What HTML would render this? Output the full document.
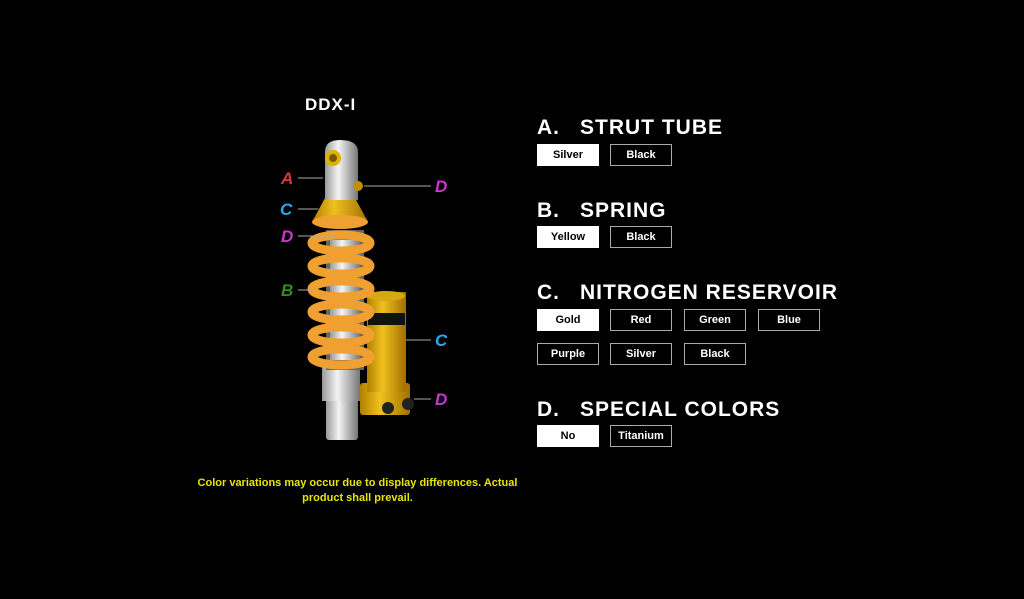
<!DOCTYPE html>
<html><head><meta charset="utf-8"><style>
body{margin:0;background:#000;width:1024px;height:599px;overflow:hidden;position:relative;font-family:"Liberation Sans",sans-serif;color:#fff}
.h{position:absolute;left:537px;font-weight:bold;font-size:21px;letter-spacing:1px;white-space:nowrap}
.h span{display:inline-block;width:43px}
.b{position:absolute;width:60px;height:20px;border:1px solid #aaa;font-size:11px;font-weight:600;text-align:center;line-height:20px;color:#fff;background:#000}
.b.s{background:#fff;color:#000;border-color:#fff}
.t{position:absolute;left:305px;top:95px;font-size:17px;font-weight:bold;letter-spacing:1px}
.f{position:absolute;left:180px;width:355px;top:476px;text-align:center;color:#e6e600;font-size:11px;font-weight:bold;line-height:15px}
</style></head><body>
<div class="t">DDX-I</div>
<svg style="position:absolute;left:0;top:0" width="1024" height="599">
<defs>
<linearGradient id="sil" x1="0" x2="1"><stop offset="0" stop-color="#999"/><stop offset=".4" stop-color="#f4f4f4"/><stop offset="1" stop-color="#777"/></linearGradient>
<linearGradient id="gld" x1="0" x2="1"><stop offset="0" stop-color="#b08000"/><stop offset=".4" stop-color="#f0c020"/><stop offset="1" stop-color="#a07000"/></linearGradient>
</defs>
<rect x="326" y="398" width="32" height="42" rx="3" fill="url(#sil)"/>
<rect x="322" y="365" width="38" height="36" fill="url(#sil)"/>
<rect x="326" y="230" width="38" height="140" fill="#666"/>
<rect x="330" y="240" width="30" height="120" fill="url(#sil)"/>
<rect x="360" y="383" width="50" height="32" rx="3" fill="url(#gld)"/>
<rect x="367" y="292" width="39" height="100" fill="url(#gld)"/>
<ellipse cx="386" cy="296" rx="19" ry="5" fill="#d8a810"/>
<rect x="368" y="313" width="37" height="12" fill="#111"/>
<circle cx="388" cy="408" r="6" fill="#222"/><circle cx="408" cy="404" r="6" fill="#222"/>
<g fill="none" stroke="#f0a030" stroke-width="9">
<ellipse cx="341" cy="243" rx="29" ry="8"/><ellipse cx="341" cy="266" rx="29" ry="8"/><ellipse cx="341" cy="289" rx="29" ry="8"/><ellipse cx="341" cy="312" rx="29" ry="8"/><ellipse cx="341" cy="335" rx="29" ry="8"/><ellipse cx="341" cy="357" rx="29" ry="8"/>
</g>
<path d="M325 198 L355 198 L368 222 Q341 236 312 222 Z" fill="url(#gld)"/>
<ellipse cx="340" cy="222" rx="28" ry="7" fill="#f0a030"/>
<path d="M325 152 Q325 140 340 140 Q358 140 358 152 L358 200 L325 200 Z" fill="url(#sil)"/>
<circle cx="333" cy="158" r="8" fill="#e0b000"/><circle cx="333" cy="158" r="4" fill="#7a5a00"/>
<circle cx="358" cy="186" r="5" fill="#c09000"/>
<g stroke="#aaa" stroke-width="1">
<line x1="298" y1="178" x2="323" y2="178"/><line x1="364" y1="186" x2="431" y2="186"/>
<line x1="298" y1="209" x2="318" y2="209"/><line x1="298" y1="236" x2="336" y2="236"/>
<line x1="298" y1="290" x2="315" y2="290"/><line x1="406" y1="340" x2="431" y2="340"/>
<line x1="414" y1="399" x2="431" y2="399"/>
</g>
<g font-family="Liberation Sans" font-weight="bold" font-style="italic" font-size="17">
<text x="281" y="184" fill="#d83838">A</text>
<text x="435" y="192" fill="#c838d0">D</text>
<text x="280" y="215" fill="#30a8e8">C</text>
<text x="281" y="242" fill="#c838d0">D</text>
<text x="281" y="296" fill="#3a8a20">B</text>
<text x="435" y="346" fill="#30a8e8">C</text>
<text x="435" y="405" fill="#c838d0">D</text>
</g>
</svg>
<div class="f">Color variations may occur due to display differences. Actual<br>product shall prevail.</div>

<div class="h" style="top:116px"><span>A.</span>STRUT TUBE</div>
<div class="b s" style="left:537px;top:144px">Silver</div>
<div class="b" style="left:610px;top:144px">Black</div>

<div class="h" style="top:199px"><span>B.</span>SPRING</div>
<div class="b s" style="left:537px;top:226px">Yellow</div>
<div class="b" style="left:610px;top:226px">Black</div>

<div class="h" style="top:281px"><span>C.</span>NITROGEN RESERVOIR</div>
<div class="b s" style="left:537px;top:309px">Gold</div>
<div class="b" style="left:610px;top:309px">Red</div>
<div class="b" style="left:684px;top:309px">Green</div>
<div class="b" style="left:758px;top:309px">Blue</div>
<div class="b" style="left:537px;top:343px">Purple</div>
<div class="b" style="left:610px;top:343px">Silver</div>
<div class="b" style="left:684px;top:343px">Black</div>

<div class="h" style="top:398px"><span>D.</span>SPECIAL COLORS</div>
<div class="b s" style="left:537px;top:425px">No</div>
<div class="b" style="left:610px;top:425px">Titanium</div>
</body></html>
